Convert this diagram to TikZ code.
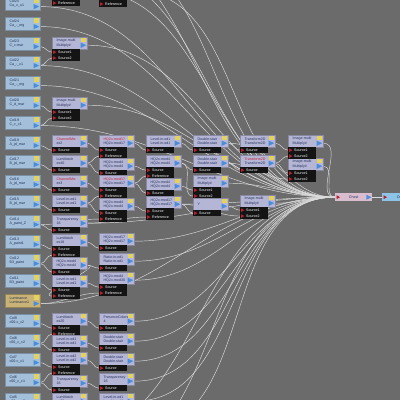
\documentclass[tikz,border=0pt]{standalone}
\usepackage{fontspec}
\setmainfont{Liberation Sans}
\usetikzlibrary{calc}
\pgfdeclarelayer{back}
\pgfdeclarelayer{bg}
\pgfsetlayers{back,bg,main}
\usepackage{xcolor}
\definecolor{canvas}{HTML}{6B6B6B}
\definecolor{colblue}{HTML}{A3BFD9}
\definecolor{fxlav}{HTML}{B5B6D6}
\definecolor{navy}{HTML}{23305A}
\definecolor{redtxt}{HTML}{C41E2E}
\definecolor{knobyel}{HTML}{E3D25C}
\definecolor{tipblue}{HTML}{4A8EDB}
\definecolor{tipred}{HTML}{B81E2C}
\definecolor{panelblk}{HTML}{141414}
\definecolor{lumtan}{HTML}{C8B275}
\definecolor{chestpink}{HTML}{D9BCCD}
\definecolor{outblue}{HTML}{8DC3E6}
\definecolor{wirewht}{HTML}{DCDCDC}

% colour input node: [style] name, x, y, top line, bottom line
\newcommand\colnode[6][]{%
  \node[colbox,#1] (#2) at (#3,#4) {#5\\#6};
  \fill[knob] ($(#2.north east)+(-6.5,1.2)$) rectangle ++(5,4.5);
  \fill[outtip] ($(#2.north east)+(-6.5,7)$) -- ++(5.5,2.6) -- ++(-5.5,2.6) -- cycle;
  \coordinate (#2-o) at ($(#2.north east)+(0,9.6)$);
}
% filter node: name, x, y, top line, bottom line, input 1, input 2
\newcommand\fxnode[7]{%
  \node[fxbox] (#1) at (#2,#3) {#4\\#5};
  \fill[knob] ($(#1.north east)+(-6.5,0.8)$) rectangle ++(5,4);
  \fill[outtip] ($(#1.north east)+(-6.5,5.5)$) -- ++(5.5,2.7) -- ++(-5.5,2.7) -- cycle;
  \coordinate (#1-o) at ($(#1.north east)+(0,8.2)$);
  \node[portrow] (#1-r1) at (#1.south west) {\hspace*{6pt}#6};
  \fill[intip] ($(#1-r1.west)+(1.2,-1.8)$) -- ++(3.2,1.8) -- ++(-3.2,1.8) -- cycle;
  \coordinate (#1-i1) at (#1-r1.west);
  \ifx\relax#7\relax\else
    \node[portrow] (#1-r2) at (#1-r1.south west) {\hspace*{6pt}#7};
    \fill[intip] ($(#1-r2.west)+(1.2,-1.8)$) -- ++(3.2,1.8) -- ++(-3.2,1.8) -- cycle;
    \coordinate (#1-i2) at (#1-r2.west);
  \fi
}

\begin{document}
\begin{tikzpicture}[
  x=1pt, y=-1pt,
  font=\fontsize{3.6}{4.1}\selectfont,
  colbox/.style={anchor=north west, fill=colblue, draw=colblue!75!black, line width=0.2pt,
    minimum width=35pt, minimum height=13pt, inner sep=1pt, text width=26pt, align=left, text=navy},
  fxbox/.style={anchor=north west, fill=fxlav, draw=fxlav!75!black, line width=0.2pt,
    minimum width=35pt, minimum height=12pt, inner sep=1pt, text width=26pt, align=left, text=navy},
  portrow/.style={anchor=north west, fill=panelblk, text=white, minimum width=28pt,
    minimum height=5.5pt, inner sep=0pt, text width=28pt, align=left},
  chestbox/.style={anchor=north west, fill=chestpink, minimum width=37pt, minimum height=8pt,
    inner sep=0pt, text=navy},
  knob/.style={fill=knobyel},
  outtip/.style={fill=tipblue},
  intip/.style={fill=tipred},
  wire/.style={draw=wirewht, line width=0.45pt}
]
\useasboundingbox (0,0) rectangle (400,400);
\begin{pgfonlayer}{back}
\fill[canvas] (0,0) rectangle (400,400);
\end{pgfonlayer}

% colour sources
\foreach \n/\y/\s in {25/-3/Ca\_v\_u1, 24/17/Ca\_-\_mg, 23/37/C\_c-mar, 22/56/Ca\_-\_c1,
    21/76/Ca\_-\_mg, 20/96/C\_d\_mar, 19/116/C\_c\_c1, 18/136/A\_jd\_mar, 17/155/B\_jd\_mar,
    16/175/A\_jd\_mar, 15/195/B\_jd\_mar, 14/215/A\_paint\_Z, 13/235/A\_paint1,
    12/254/B3\_paint, 11/274/B3\_paint, 9/314/c00-c\_c2, 8/334/c00\_c\_c2,
    7/353/c00-c\_c1, 6/373/c00\_c\_c1, 5/393/c00\_c\_c0}
  \colnode{col\n}{5}{\y}{Col\n}{\s};
\colnode[fill=lumtan, draw=lumtan!75!black]{lum}{5}{294}{Luminance}{Luminance1};

% filters, above the frame
\fxnode{p1}{52}{-18}{HQ2x-mod4}{HQ2x-mod4}{Source}{Reference}
\fxnode{p2}{99}{-17}{Level-in-od1}{Level-in-od1}{Source}{Reference}
\fxnode{m23}{52}{37}{Image-multi}{Multiply\#}{Source1}{Source2}
\fxnode{m20}{52}{97}{Image-multi}{Multiply\#}{Source1}{Source2}

% second column
\fxnode{a1}{52}{135}{\textcolor{redtxt}{ChannelMix}}{ex2}{Source}{}
\fxnode{a2}{52}{155}{LumMatch}{ex40}{Source}{}
\fxnode{a3}{52}{175}{\textcolor{redtxt}{ChannelMix}}{ex3}{Source}{}
\fxnode{a4}{52}{195}{Level-in-od1}{Level-in-od1}{Source}{}
\fxnode{a5}{52}{215}{Transparency}{16}{Source}{}
\fxnode{a6}{52}{234}{LumMatch}{ex18}{Source}{Reference}
\fxnode{a7}{52}{257}{HQ2x-mod4}{HQ2x-mod4}{Source}{}
\fxnode{a8}{52}{275}{Level-in-od1}{Level-in-od1}{Source}{Reference}
\fxnode{a9}{52}{313}{LumMatch}{ex20}{Source}{Reference}
\fxnode{a10}{52}{335}{Level-in-od1}{Level-in-od1}{Source}{}
\fxnode{a11}{52}{352}{Level-in-od2}{Level-in-od2}{Source}{Reference}
\fxnode{a12}{52}{375}{Transparency}{16}{Source}{}
\fxnode{a13}{52}{393}{LumMatch}{ex22}{Source}{}

% third column
\fxnode{b1}{99}{135}{\textcolor{redtxt}{HQ2x-mod17}}{HQ2x-mod17}{Source}{Reference}
\fxnode{b2}{99}{158}{HQ2x-mod4}{HQ2x-mod4}{Source}{}
\fxnode{b3}{99}{175}{\textcolor{redtxt}{HQ2x-mod17}}{HQ2x-mod17}{Source}{Reference}
\fxnode{b4}{99}{198}{HQ2x-mod4}{HQ2x-mod4}{Source}{Reference}
\fxnode{b6}{99}{233}{HQ2x-mod17}{HQ2x-mod17}{Source}{}
\fxnode{b7}{99}{253}{Ratio-in-od1}{Ratio-in-od1}{Source}{}
\fxnode{b8}{99}{272}{HQ2x-mod4}{HQ2x-mod30}{Source}{Reference}
\fxnode{b9}{99}{313}{PreserveColors}{4}{Source}{}
\fxnode{b10}{99}{333}{Double-stair}{Double-stair}{Source}{}
\fxnode{b11}{99}{353}{Double-stair}{Double-stair}{Source}{}
\fxnode{b12}{99}{373}{Transparency}{16}{Source}{}
\fxnode{b13}{99}{393}{Level-in-od1}{Level-in-od1}{Source}{}

% fourth to seventh column
\fxnode{c1x}{146}{135}{Level-in-od1}{Level-in-od1}{Source}{}
\fxnode{c2x}{146}{155}{HQ2x-mod4}{HQ2x-mod4}{Source}{Reference}
\fxnode{c3x}{146}{178}{HQ2x-mod4}{HQ2x-mod4}{Source}{}
\fxnode{c4x}{146}{196}{HQ2x-mod17}{HQ2x-mod17}{Source}{Reference}
\fxnode{d1}{193}{135}{Double-stair}{Double-stair}{Source}{}
\fxnode{d2}{193}{155}{Double-stair}{Double-stair}{Source}{}
\fxnode{d3}{193}{175}{Image-multi}{Multiply\#}{Source1}{Source2}
\fxnode{d4}{193}{198}{Y}{}{Source}{}
\fxnode{e1}{240}{135}{Transform2D}{Transform2D}{Source}{}
\fxnode{e2}{240}{155}{\textcolor{redtxt}{Transform2D}}{Transform2D}{Source}{}
\fxnode{e4}{240}{195}{Image-multi}{Multiply\#}{Source1}{Source2}
\fxnode{f2}{288}{158}{Image-multi}{Multiply\#}{Source1}{Source2}
\fxnode{f1}{288}{135}{Image-multi}{Multiply\#}{Source1}{Source2}

% result
\node[chestbox] (chest) at (335,193) {Chest};
\fill[intip] ($(chest.west)+(1.5,-2)$) -- ++(3.5,2) -- ++(-3.5,2) -- cycle;
\fill[outtip] ($(chest.east)+(-6,-2.5)$) -- ++(5,2.5) -- ++(-5,2.5) -- cycle;
\coordinate (chest-i) at (chest.west);
\coordinate (chest-o) at (chest.east);
\node[chestbox, fill=outblue, minimum width=34pt] (out) at (382,193) {\hspace*{6pt}Output};
\fill[intip] ($(out.west)+(1.5,-2)$) -- ++(3.5,2) -- ++(-3.5,2) -- cycle;

% sources outside the frame
\coordinate (t1) at (80,-30);
\coordinate (t2) at (95,-50);
\coordinate (t3) at (60,-60);
\coordinate (u1) at (90,460);
\coordinate (u2) at (140,430);
\coordinate (u3) at (60,440);

\begin{pgfonlayer}{bg}
\begin{scope}
\clip (0,0) rectangle (400,400);
\foreach \p in {col25,col24,m23,col22,col21,m20,col19,p1,p2,f1,f2,d3,e4,d1,a5,c4x,
    b6,b7,b8,lum,b9,b10,b11,b12,b13}
  \draw[wire] (\p-o) to[out=0,in=180] (chest-i);
\foreach \p in {t1,t2,t3,u1,u2,u3}
  \draw[wire] (\p) to[out=0,in=180] (chest-i);
\foreach \p/\q in {col23/m23-i1, col22/m23-i2, col20/m20-i1, col19/m20-i2,
    col18/a1-i1, a1/b1-i1, b1/c1x-i1, c1x/d1-i1, d1/e1-i1, e1/f1-i1,
    col17/a2-i1, a2/b2-i1, a2/b1-i2, b2/c2x-i1, c2x/d2-i1, d2/e2-i1, e2/f2-i1, e2/f1-i2,
    col16/a3-i1, a3/b3-i1, b3/c3x-i1, c3x/d3-i1, c2x/d3-i2, b3/c2x-i2, d2/f2-i2,
    col15/a4-i1, a4/b4-i1, a4/b3-i2, b4/c4x-i1, c4x/d4-i1, d4/e4-i1, c4x/e4-i2, a5/c4x-i2,
    col14/a5-i1, col14/b4-i2, col13/a6-i1, col12/a6-i2, a6/b6-i1,
    col12/a7-i1, a7/b7-i1, col11/a8-i1, a7/a8-i2, a8/b8-i1, lum/b8-i2,
    col9/a9-i1, col8/a9-i2, a9/b9-i1, col8/a10-i1, a10/b10-i1,
    col7/a11-i1, col6/a11-i2, a11/b11-i1, col6/a12-i1, a12/b12-i1,
    col5/a13-i1, a13/b13-i1}
  \draw[wire] (\p-o) to[out=0,in=180] (\q);
\draw[wire] (chest-o) -- (out.west);
\end{scope}
\end{pgfonlayer}
\end{tikzpicture}
\end{document}
